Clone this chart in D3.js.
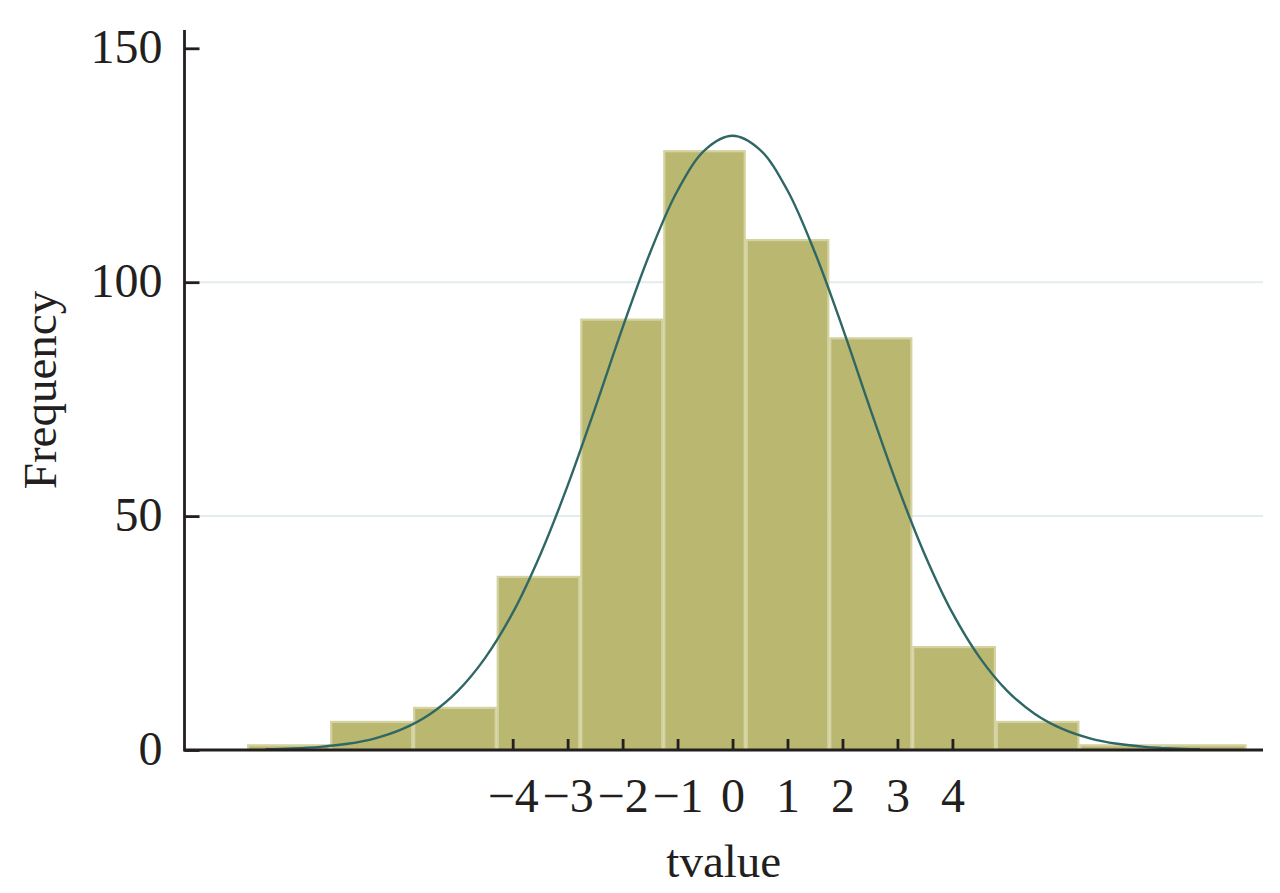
<!DOCTYPE html>
<html>
<head>
<meta charset="utf-8">
<script src="https://cdn.jsdelivr.net/npm/d3@7"></script>
<style>
  html, body { margin: 0; padding: 0; background: #ffffff; }
  svg { display: block; }
  text { font-family: "Liberation Serif", "Times New Roman", serif; fill: #231f20; }
</style>
</head>
<body>
<svg id="chart" width="1280" height="893"></svg>
<script>
// ---- data ----
const binEdges = [-8.83, -7.32, -5.81, -4.29, -2.77, -1.26, 0.24, 1.76, 3.27, 4.79, 6.31, 7.83, 9.35];
const counts   = [1, 6, 9, 37, 92, 128, 109, 88, 22, 6, 1, 1];
const curveX   = [-8.5, -8, -7.5, -7, -6.5, -6, -5.5, -5, -4.5, -4, -3.5, -3, -2.5, -2, -1.5, -1, -0.5, 0,
                  0.5, 1, 1.5, 2, 2.5, 3, 3.5, 4, 4.5, 5, 5.5, 6, 6.5, 7, 7.5, 8, 8.5];
const curveY   = [0.15, 0.33, 0.67, 1.33, 2.5, 4.5, 7.7, 12.6, 19.7, 29.3, 41.7, 56.5, 73.1, 90.3, 106.3, 119.6, 128.3, 131.3,
                  128.3, 119.6, 106.3, 90.3, 73.1, 56.5, 41.7, 29.3, 19.7, 12.6, 7.7, 4.5, 2.5, 1.33, 0.67, 0.33, 0.15];
const xTicks   = [-4, -3, -2, -1, 0, 1, 2, 3, 4];
const yTicks   = [0, 50, 100, 150];
const gridVals = [50, 100];
const xTitle   = "tvalue";
const yTitle   = "Frequency";

(function () {
// ---- layout ----
const svg = d3.select("#chart");
const mLeft = 184.5, mRight = 1263, mTop = 30, mBottom = 750;
const x = d3.scaleLinear().domain([-9.97, 9.65]).range([mLeft, mRight]);
const y = d3.scaleLinear().domain([0, 150]).range([mBottom, 48.3]);
const ink = "#231f20";

// grid lines
svg.append("g").selectAll("line").data(gridVals).join("line")
  .attr("x1", mLeft).attr("x2", mRight)
  .attr("y1", d => y(d)).attr("y2", d => y(d))
  .attr("stroke", "#e3eded").attr("stroke-width", 2);

// bars
const bins = counts.map((c, i) => ({ x0: binEdges[i], x1: binEdges[i + 1], c }));
svg.append("g").selectAll("rect").data(bins).join("rect")
  .attr("x", d => x(d.x0) + 1)
  .attr("width", d => x(d.x1) - x(d.x0) - 2)
  .attr("y", d => y(d.c))
  .attr("height", d => y(0) - y(d.c))
  .attr("fill", "#bab771")
  .attr("stroke", "#d4d2a1")
  .attr("stroke-width", 2.2);

// density curve
const pts = curveX.map((v, i) => [v, curveY[i]]);
svg.append("path")
  .attr("d", d3.line().x(d => x(d[0])).y(d => y(d[1])).curve(d3.curveCatmullRom)(pts))
  .attr("fill", "none")
  .attr("stroke", "#2f6764")
  .attr("stroke-width", 2.4);

// y axis
const yAxis = svg.append("g").attr("transform", `translate(${mLeft},0)`)
  .call(d3.axisRight(y).tickValues(yTicks).tickSize(15).tickFormat(d3.format("d")));
yAxis.select(".domain").remove();
yAxis.selectAll(".tick line").attr("stroke", ink).attr("stroke-width", 2.8);
yAxis.selectAll(".tick text")
  .attr("x", -22).attr("dy", "0.3em")
  .attr("text-anchor", "end")
  .style("font-size", "48px").style("font-family", "Liberation Serif, serif").attr("fill", ink);
svg.append("line").attr("x1", mLeft).attr("x2", mLeft).attr("y1", mTop).attr("y2", mBottom + 1.5)
  .attr("stroke", ink).attr("stroke-width", 2.8);

// x axis
const xAxis = svg.append("g").attr("transform", `translate(0,${mBottom})`)
  .call(d3.axisTop(x).tickValues(xTicks).tickSize(11));
xAxis.select(".domain").remove();
xAxis.selectAll(".tick line").attr("stroke", ink).attr("stroke-width", 2.8);
xAxis.selectAll(".tick text")
  .attr("y", 62).attr("dy", 0)
  .style("font-size", "48px").style("font-family", "Liberation Serif, serif").attr("fill", ink);
svg.append("line").attr("x1", mLeft).attr("x2", mRight).attr("y1", mBottom).attr("y2", mBottom)
  .attr("stroke", ink).attr("stroke-width", 2.8);

// titles
svg.append("text").attr("x", (mLeft + mRight) / 2).attr("y", 877)
  .attr("text-anchor", "middle").style("font-size", "47px").text(xTitle);
svg.append("text").attr("transform", `translate(56,${(mTop + mBottom) / 2}) rotate(-90)`)
  .attr("text-anchor", "middle").style("font-size", "47px").text(yTitle);
})();
</script>
</body>
</html>
